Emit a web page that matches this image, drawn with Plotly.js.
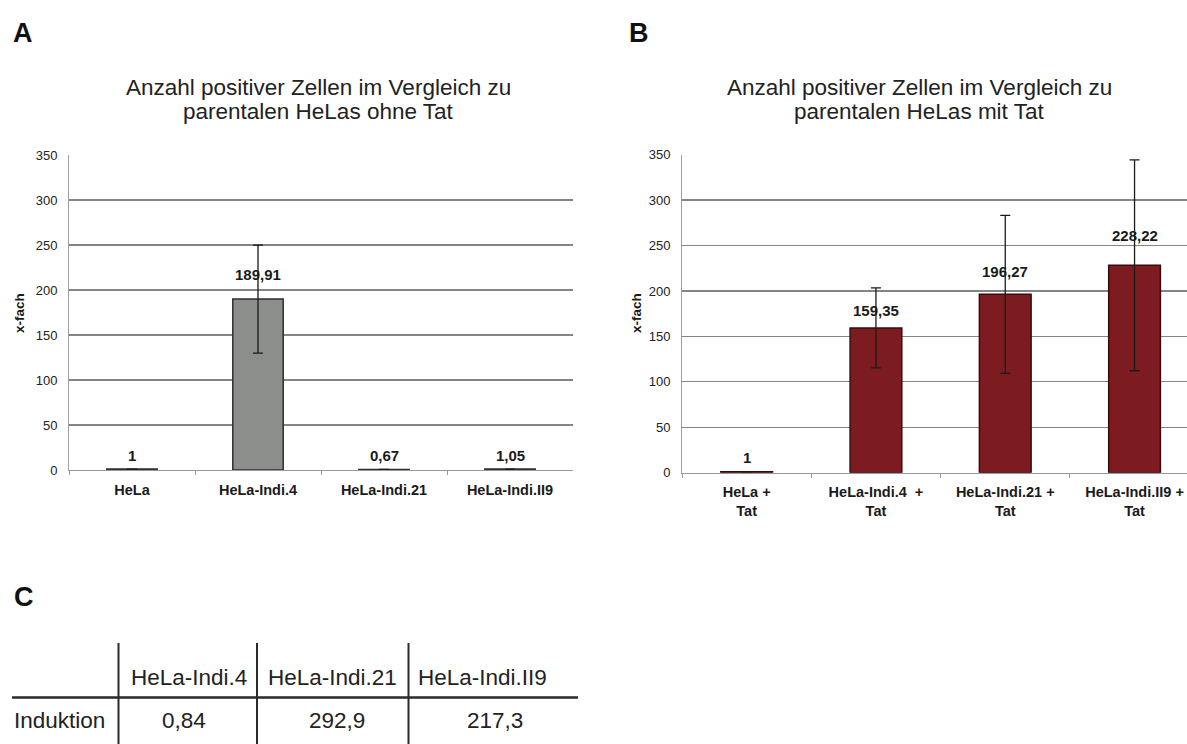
<!DOCTYPE html>
<html>
<head>
<meta charset="utf-8">
<script src="https://cdn.plot.ly/plotly-3.0.1.min.js"></script>
<style>
html,body{margin:0;padding:0;background:#ffffff;}
#chart{width:1187px;height:744px;}
</style>
</head>
<body>
<div id="chart"></div>
<script>
// ---------- data ----------
const catsA = ["HeLa", "HeLa-Indi.4", "HeLa-Indi.21", "HeLa-Indi.II9"];
const valsA = [1, 189.91, 0.67, 1.05];
const errA = [0, 60, 0, 0];
const labelsA = ["1", "189,91", "0,67", "1,05"];

const catsB = ["HeLa +<br>Tat", "HeLa-Indi.4\u00a0 +<br>Tat", "HeLa-Indi.21 +<br>Tat", "HeLa-Indi.II9 +<br>Tat"];
const valsB = [1, 159.35, 196.27, 228.22];
const errB = [0, 44, 87, 116];
const labelsB = ["1", "159,35", "196,27", "228,22"];

const yTickVals = [0, 50, 100, 150, 200, 250, 300, 350];

const titleA = ["Anzahl positiver Zellen im Vergleich zu", "parentalen HeLas ohne Tat"];
const titleB = ["Anzahl positiver Zellen im Vergleich zu", "parentalen HeLas mit Tat"];
const yTitle = "x-fach";

const tableHeaders = ["HeLa-Indi.4", "HeLa-Indi.21", "HeLa-Indi.II9"];
const tableRowLabel = "Induktion";
const tableValues = ["0,84", "292,9", "217,3"];

// ---------- layout helpers (pixel -> paper) ----------
const W = 1187, H = 744;
const px = x => x / W;
const py = y => 1 - y / H;
const FONT = "Liberation Sans, Arial, sans-serif";

// label vertical offsets (px above bar top)
const shiftA = [14, 25, 14, 14];
const shiftB = [14, 17, 23, 30];

const traceA = {
  type: "bar", x: catsA, y: valsA, xaxis: "x", yaxis: "y",
  marker: {color: "#8c8e8c", line: {color: "#2e2e2e", width: 1.5}},
  error_y: {type: "data", array: errA, visible: true, color: "#1a1a1a", thickness: 1.3, width: 5},
  hoverinfo: "skip", showlegend: false
};
const traceB = {
  type: "bar", x: catsB, y: valsB, xaxis: "x2", yaxis: "y2",
  marker: {color: "#7c1b20", line: {color: "#3a0b0d", width: 1.5}},
  error_y: {type: "data", array: errB, visible: true, color: "#1a1a1a", thickness: 1.3, width: 5},
  hoverinfo: "skip", showlegend: false
};

const yAxisCommon = {
  range: [0, 350], tickvals: yTickVals, showgrid: true, gridcolor: "#858585", gridwidth: 1.3,
  showline: true, linecolor: "#a0a0a0", linewidth: 1, zeroline: false,
  ticks: "", ticklabelstandoff: 8,
  tickfont: {family: FONT, size: 13, color: "#222"}, fixedrange: true
};
const xAxisCommon = {
  type: "category", showline: true, linecolor: "#9a9a9a", linewidth: 1.2,
  ticks: "outside", tickson: "boundaries", ticklen: 4, tickcolor: "#9a9a9a",
  showgrid: false, zeroline: false, ticklabelstandoff: 6,
  tickfont: {family: FONT, size: 14.5, color: "#1a1a1a", weight: "bold"}, fixedrange: true
};

const annotations = [];
// data labels
catsA.forEach((c, i) => annotations.push({
  xref: "x", yref: "y", x: c, y: valsA[i], text: "<b>" + labelsA[i] + "</b>",
  showarrow: false, yanchor: "middle", yshift: shiftA[i],
  font: {family: FONT, size: 15, color: "#1a1a1a"}
}));
catsB.forEach((c, i) => annotations.push({
  xref: "x2", yref: "y2", x: c, y: valsB[i], text: "<b>" + labelsB[i] + "</b>",
  showarrow: false, yanchor: "middle", yshift: shiftB[i],
  font: {family: FONT, size: 15, color: "#1a1a1a"}
}));
// titles
[[titleA, 318], [titleB, 919]].forEach(([t, cx]) => {
  annotations.push({xref: "paper", yref: "paper", x: px(cx), y: py(87), text: t[0], showarrow: false,
    xanchor: "center", yanchor: "middle", font: {family: FONT, size: 22.5, color: "#222"}});
  annotations.push({xref: "paper", yref: "paper", x: px(cx), y: py(112), text: t[1], showarrow: false,
    xanchor: "center", yanchor: "middle", font: {family: FONT, size: 22.5, color: "#222"}});
});
// y-axis titles
[[20, 313], [637, 313]].forEach(([cx, cy]) => annotations.push({
  xref: "paper", yref: "paper", x: px(cx), y: py(cy), text: "<b>" + yTitle + "</b>", textangle: -90,
  showarrow: false, xanchor: "center", yanchor: "middle", font: {family: FONT, size: 13.5, color: "#1a1a1a"}
}));
// panel letters
[["A", 23, 33], ["B", 639, 33], ["C", 24, 597]].forEach(([t, cx, cy]) => annotations.push({
  xref: "paper", yref: "paper", x: px(cx), y: py(cy), text: "<b>" + t + "</b>", showarrow: false,
  xanchor: "center", yanchor: "middle", font: {family: FONT, size: 27, color: "#111"}
}));
// table C
const headerCenters = [189, 332, 482];
const valueCenters = [184, 337, 495];
tableHeaders.forEach((h, i) => annotations.push({
  xref: "paper", yref: "paper", x: px(headerCenters[i]), y: py(677), text: h, showarrow: false,
  xanchor: "center", yanchor: "middle", font: {family: FONT, size: 22.5, color: "#222"}
}));
tableValues.forEach((v, i) => annotations.push({
  xref: "paper", yref: "paper", x: px(valueCenters[i]), y: py(720), text: v, showarrow: false,
  xanchor: "center", yanchor: "middle", font: {family: FONT, size: 22.5, color: "#222"}
}));
annotations.push({
  xref: "paper", yref: "paper", x: px(12), y: py(720), text: tableRowLabel, showarrow: false,
  xanchor: "left", yanchor: "middle", font: {family: FONT, size: 22.5, color: "#222"}
});

const shapes = [];
[118.5, 257, 408.5].forEach(x => shapes.push({
  type: "line", xref: "paper", yref: "paper", x0: px(x), x1: px(x), y0: py(643), y1: py(744),
  line: {color: "#2a2a2a", width: 2}
}));
shapes.push({
  type: "line", xref: "paper", yref: "paper", x0: px(12), x1: px(578), y0: py(697.5), y1: py(697.5),
  line: {color: "#2a2a2a", width: 2.5}
});

// chart B is cut off at the right image edge
const bStep = 129.3, bLeft = 682, bRightFull = bLeft + 4 * bStep;
const bRangeMax = 3.5 - (bRightFull - W) / bStep;

const layout = {
  width: W, height: H,
  margin: {l: 0, r: 0, t: 0, b: 0, pad: 0},
  paper_bgcolor: "#ffffff", plot_bgcolor: "#ffffff",
  bargap: 0.6,
  font: {family: FONT},
  xaxis: Object.assign({}, xAxisCommon, {domain: [px(69), px(573)], anchor: "y", range: [-0.5, 3.5]}),
  yaxis: Object.assign({}, yAxisCommon, {domain: [py(470), py(155)], anchor: "x"}),
  xaxis2: Object.assign({}, xAxisCommon, {domain: [px(bLeft), 1], anchor: "y2", range: [-0.5, bRangeMax]}),
  yaxis2: Object.assign({}, yAxisCommon, {domain: [py(472.7), py(154.7)], anchor: "x2"}),
  annotations: annotations,
  shapes: shapes
};

Plotly.newPlot("chart", [traceA, traceB], layout, {staticPlot: true, displayModeBar: false});
</script>
</body>
</html>
